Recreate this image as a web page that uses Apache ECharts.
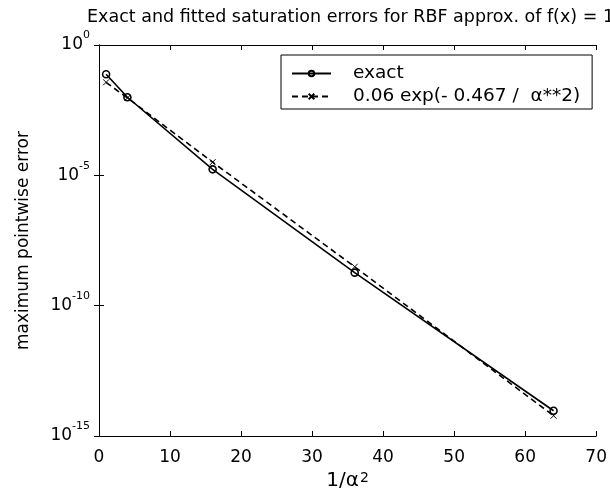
<!DOCTYPE html>
<html>
<head>
<meta charset="utf-8">
<script src="https://cdn.jsdelivr.net/npm/echarts@6/dist/echarts.min.js"></script>
<style>
  html, body { margin: 0; padding: 0; background: #fff; }
  #chart { width: 610px; height: 500px; }
</style>
</head>
<body>
<div id="chart"></div>
<script>
// 1/alpha^2 values and the two error curves
const xValues = [1, 4, 16, 36, 64];
const exactErr = [0.075, 0.0099, 1.7e-5, 1.85e-9, 9.3e-15];
const fittedErr = [0.037, 0.0093, 3.2e-5, 3.1e-9, 6.0e-15];
const xTicks = [0, 10, 20, 30, 40, 50, 60, 70];
const yTickExp = [0, -5, -10, -15];

const FONT = "DejaVu Sans";
const chart = echarts.init(document.getElementById("chart"));

function pairs(ys) {
  return xValues.map((x, i) => [x, ys[i]]);
}

const xBase = {
  type: "value",
  min: xTicks[0],
  max: xTicks[xTicks.length - 1],
  interval: xTicks[1] - xTicks[0],
  axisLine: { lineStyle: { color: "#000", width: 1 } },
  axisTick: { inside: true, length: 5, lineStyle: { color: "#000" } },
  splitLine: { show: false },
};
const yBase = {
  type: "log",
  logBase: 10,
  min: Math.pow(10, yTickExp[yTickExp.length - 1]),
  max: Math.pow(10, yTickExp[0]),
  interval: 5,
  axisLine: { show: true, lineStyle: { color: "#000", width: 1 } },
  axisTick: { show: true, inside: true, length: 5, lineStyle: { color: "#000" } },
  splitLine: { show: false },
  minorTick: { show: false },
};

const option = {
  animation: false,
  backgroundColor: "#fff",
  textStyle: { fontFamily: FONT },
  title: {
    text: "Exact and fitted saturation errors for RBF approx. of f(x) = 1",
    left: 87,
    top: 8,
    padding: 0,
    textStyle: { fontFamily: FONT, fontSize: 17.5, fontWeight: "normal", color: "#000" },
  },
  legend: {
    orient: "vertical",
    left: 281,
    top: 55,
    padding: [9, 12, 3, 10],
    itemGap: 4,
    itemWidth: 39,
    itemHeight: 7,
    borderColor: "#000",
    borderWidth: 1,
    backgroundColor: "#fff",
    textStyle: { fontFamily: FONT, fontSize: 18.5, lineHeight: 19, color: "#000", padding: [0, 0, 0, 17] },
    data: ["exact", "0.06 exp(- 0.467 /  α**2)"],
  },
  grid: { left: 99, right: 13, top: 45, bottom: 64 },
  xAxis: [
    Object.assign({}, xBase, {
      position: "bottom",
      name: "1/α{sup|2}",
      nameLocation: "middle",
      nameGap: 34,
      nameTextStyle: {
        fontFamily: FONT, fontSize: 20, color: "#000",
        rich: { sup: { fontFamily: FONT, fontSize: 14, color: "#000", padding: [0, 0, 5, 1] } },
      },
      axisLabel: { margin: 13, fontFamily: FONT, fontSize: 17, color: "#000" },
    }),
    Object.assign({}, xBase, {
      position: "top",
      axisLabel: { show: false },
    }),
  ],
  yAxis: [
    Object.assign({}, yBase, {
      position: "left",
      name: "maximum pointwise error",
      nameLocation: "middle",
      nameGap: 67,
      nameTextStyle: { fontFamily: FONT, fontSize: 17, color: "#000" },
      axisLabel: {
        margin: 9,
        color: "#000",
        formatter: (v) => "{b|10}{s|" + Math.round(Math.log10(v)) + "}",
        rich: {
          b: { fontFamily: FONT, fontSize: 17, color: "#000" },
          s: { fontFamily: FONT, fontSize: 11, color: "#000", padding: [0, 0, 19, 0] },
        },
      },
    }),
    Object.assign({}, yBase, {
      position: "right",
      axisLabel: { show: false },
    }),
  ],
  series: [
    {
      name: "exact",
      type: "line",
      data: pairs(exactErr),
      symbol: "circle",
      symbolSize: 7,
      itemStyle: { color: "rgba(0,0,0,0)", borderColor: "#000", borderWidth: 1.6 },
      lineStyle: { color: "#000", width: 1.6, type: "solid" },
      z: 3,
    },
    {
      name: "0.06 exp(- 0.467 /  α**2)",
      type: "line",
      data: pairs(fittedErr),
      symbol: "path://M0,0L10,10M10,0L0,10",
      symbolSize: 6,
      itemStyle: { color: "rgba(0,0,0,0)", borderColor: "#000", borderWidth: 1 },
      lineStyle: { color: "#000", width: 1.6, type: [6, 4] },
      z: 2,
    },
  ],
};

chart.setOption(option);
</script>
</body>
</html>
